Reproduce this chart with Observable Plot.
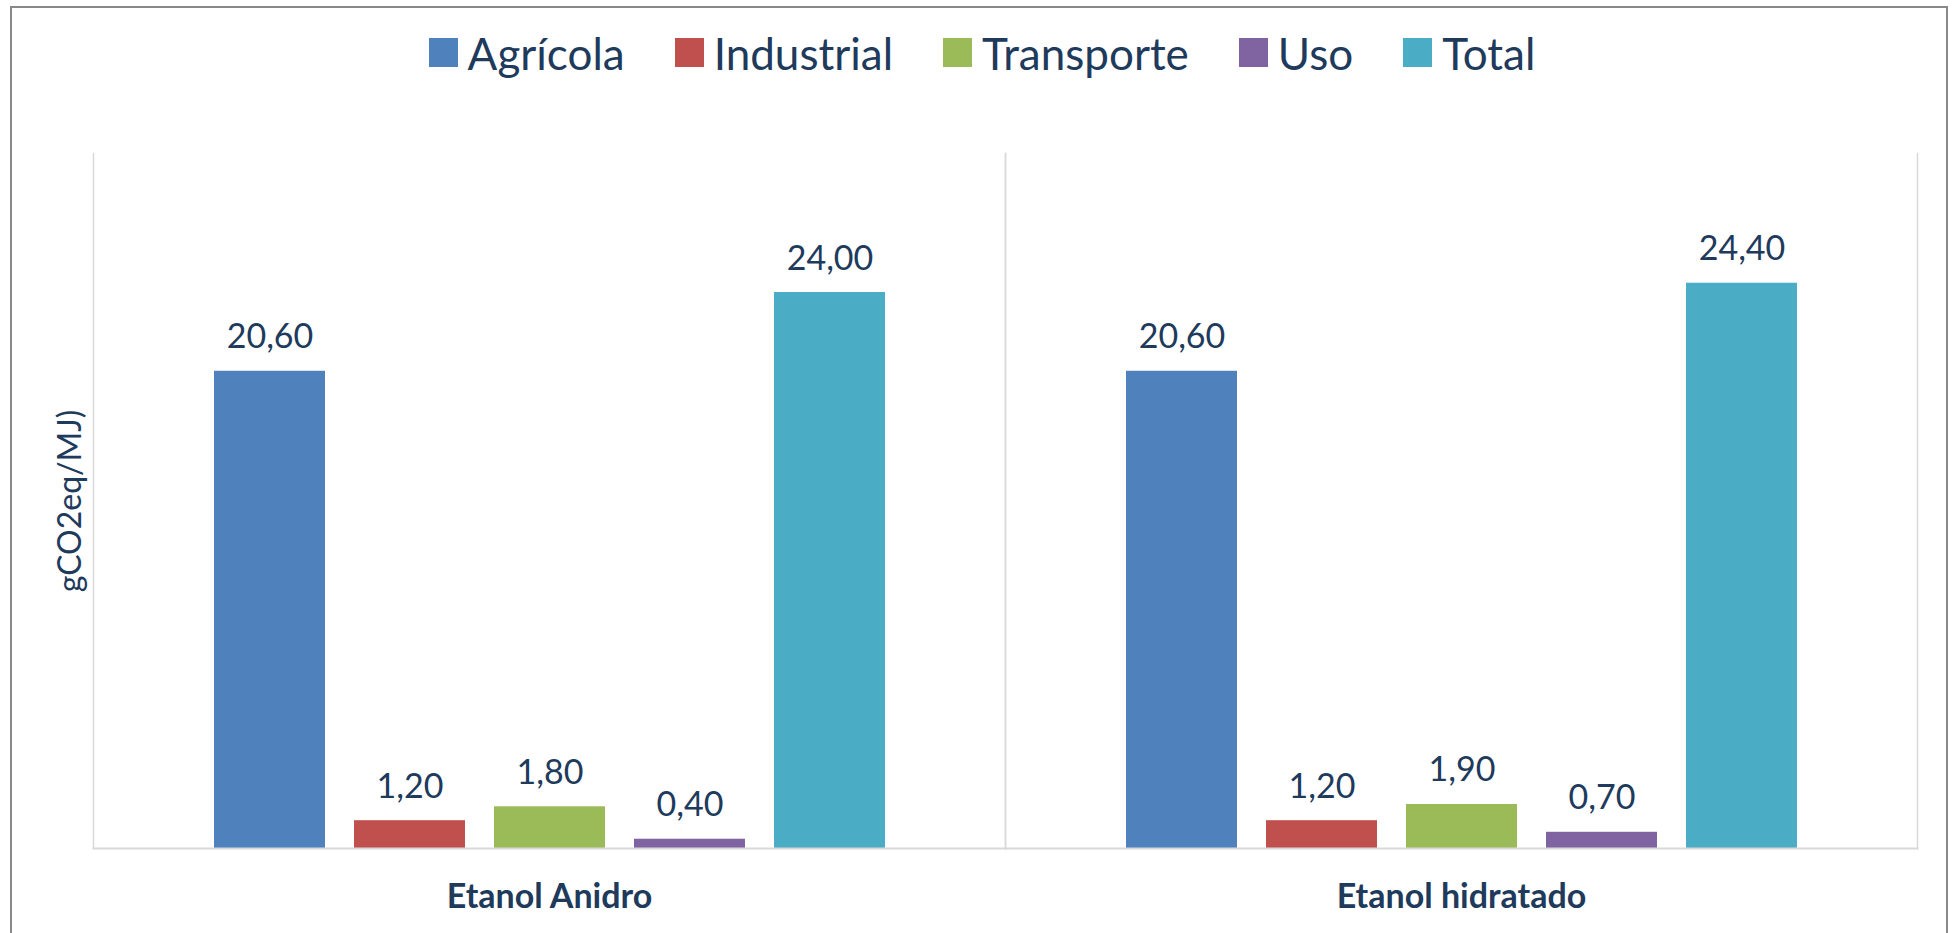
<!DOCTYPE html>
<html>
<head>
<meta charset="utf-8">
<script src="https://cdn.jsdelivr.net/npm/d3@7"></script>
<script src="https://cdn.jsdelivr.net/npm/@observablehq/plot@0.6"></script>
<style>
  html, body { margin: 0; padding: 0; background: #fff; }
  body { width: 1952px; height: 933px; overflow: hidden; position: relative; font-family: Lato, "Open Sans", sans-serif; color: #203a5c; }
  #frame { position: absolute; left: 10px; top: 6px; width: 1938px; height: 1000px; border: 2px solid #898989; box-sizing: border-box; pointer-events: none; }
  #legend { height: 100px; box-sizing: border-box; padding-top: 5px; padding-left: 12px; display: flex; align-items: center; justify-content: center; gap: 50px; font-size: 44px; }
  #legend .item { display: flex; align-items: center; gap: 10px; }
  #legend .sw { width: 29px; height: 29px; display: inline-block; }
  #chart svg { display: block; }
</style>
</head>
<body>
<div id="legend"></div>
<div id="chart"></div>
<div id="frame"></div>
<script>
const grupos = ["Etanol Anidro", "Etanol hidratado"];
const etapas = ["Agrícola", "Industrial", "Transporte", "Uso", "Total"];
const anidro = [20.6, 1.2, 1.8, 0.4, 24.0];
const hidratado = [20.6, 1.2, 1.9, 0.7, 24.4];
const cores = ["#4f81bd", "#c0504d", "#9bbb59", "#8064a2", "#4bacc6"];
const tituloY = "gCO2eq/MJ)";

const series = [anidro, hidratado];
const data = [];
grupos.forEach((g, gi) => etapas.forEach((e, ei) => data.push({grupo: g, etapa: e, valor: series[gi][ei]})));

const fmt = v => v.toFixed(2).replace(".", ",");

// legend
const legend = document.getElementById("legend");
etapas.forEach((e, i) => {
  const it = document.createElement("div");
  it.className = "item";
  const sw = document.createElement("span");
  sw.className = "sw";
  sw.style.background = cores[i];
  const t = document.createElement("span");
  t.textContent = e;
  it.appendChild(sw); it.appendChild(t);
  legend.appendChild(it);
});

const chart = Plot.plot({
  width: 1952,
  height: 833,
  marginLeft: 93,
  marginRight: 35,
  marginTop: 53,
  marginBottom: 85,
  style: {fontFamily: "Lato, 'Open Sans', sans-serif", color: "#203a5c", background: "transparent"},
  fx: {domain: grupos, padding: 0},
  x: {domain: etapas, paddingInner: 0.209, paddingOuter: 0.852, axis: null},
  y: {domain: [0, 30], axis: null},
  color: {domain: etapas, range: cores},
  marks: [
    Plot.frame({anchor: "left", stroke: "#d9d9d9", strokeWidth: 1.5}),
    Plot.frame({anchor: "right", stroke: "#d9d9d9", strokeWidth: 1.5}),
    Plot.barY(data, {fx: "grupo", x: "etapa", y: "valor", fill: "etapa"}),
    Plot.frame({anchor: "bottom", stroke: "#d9d9d9", strokeWidth: 2}),
    Plot.text(data, {fx: "grupo", x: "etapa", y: "valor", text: d => fmt(d.valor), lineAnchor: "bottom", dy: -23, fontSize: 34, fill: "#203a5c"}),
    Plot.text([grupos[0]], {fx: d => d, frameAnchor: "left", textAnchor: "middle", lineAnchor: "middle", rotate: -90, dx: -23, text: () => tituloY, fontSize: 32, fill: "#203a5c"}),
    Plot.axisFx({anchor: "bottom", tickSize: 0, tickPadding: 35, fontSize: 34, fontWeight: "bold", label: null, fill: "#203a5c"})
  ]
});
document.getElementById("chart").appendChild(chart);
</script>
</body>
</html>
